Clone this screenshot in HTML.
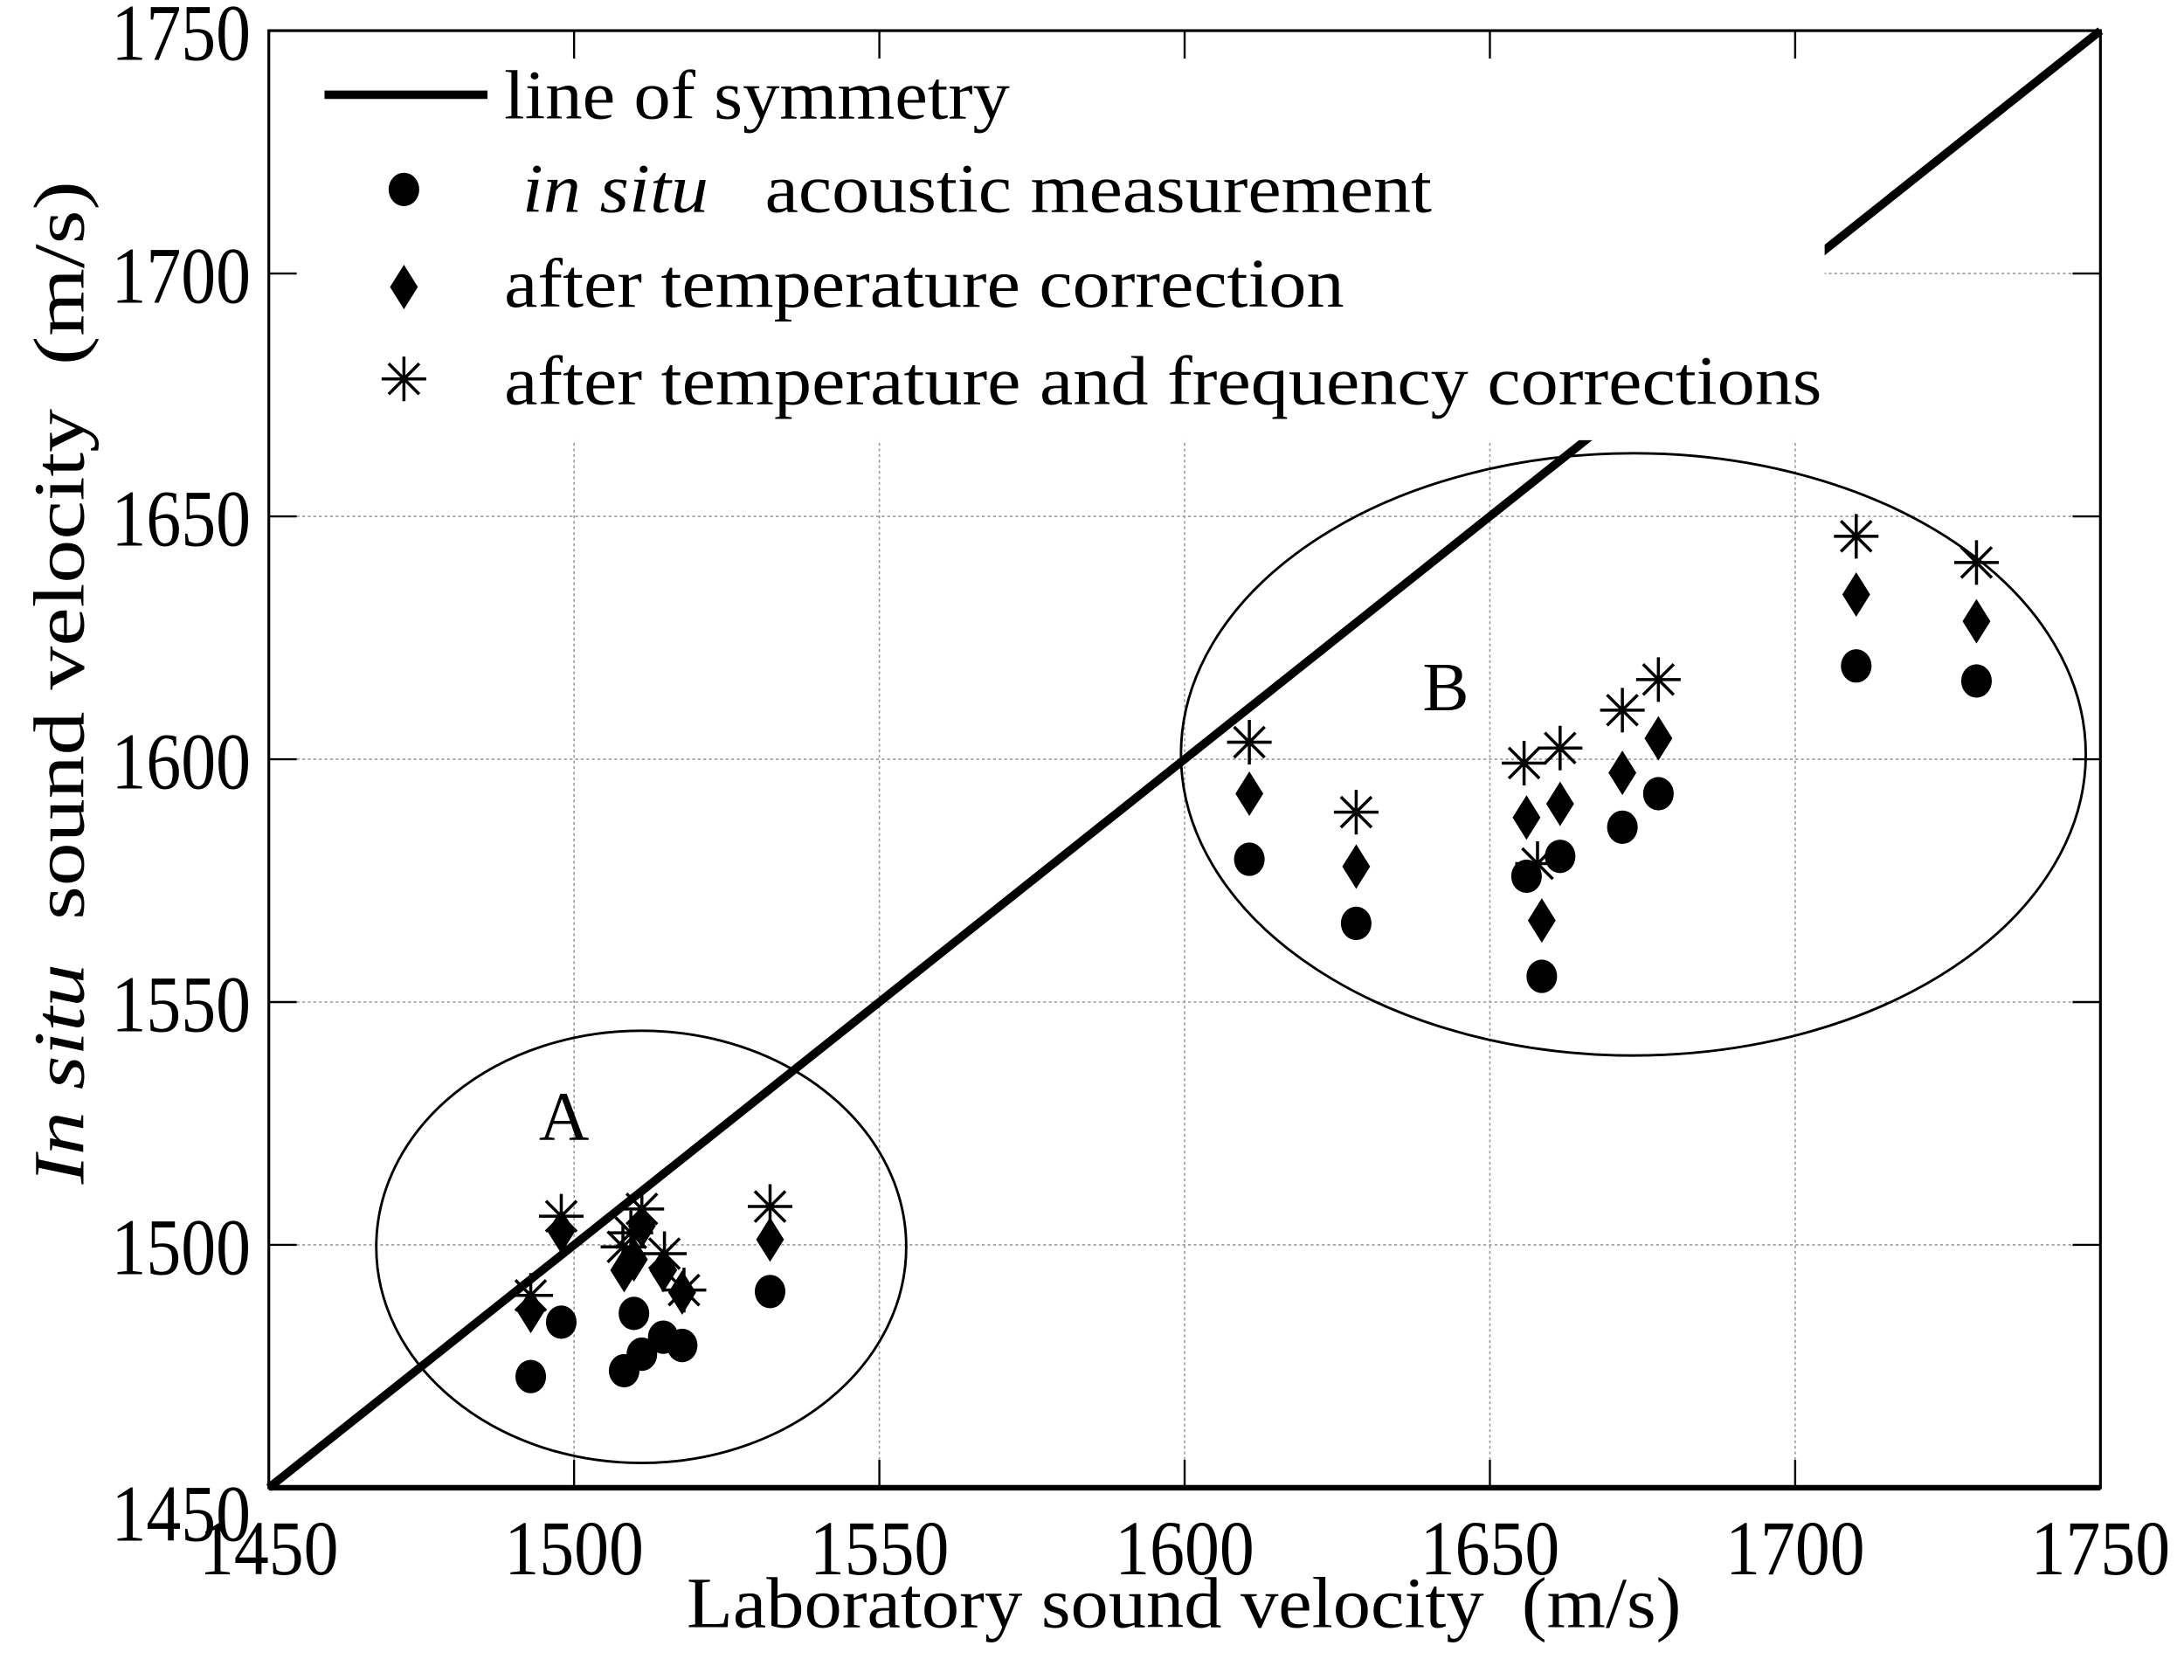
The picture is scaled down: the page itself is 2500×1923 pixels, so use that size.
<!DOCTYPE html>
<html><head><meta charset="utf-8"><style>html,body{margin:0;padding:0;background:#fff;overflow:hidden}svg{display:block}text{font-family:"Liberation Serif",serif;fill:#000}</style></head>
<body>
<svg id="chart" xmlns="http://www.w3.org/2000/svg" width="2500" height="1923" viewBox="0 0 1568 1206" preserveAspectRatio="none">
<rect x="0" y="0" width="1568" height="1206" fill="#fff"/>
<g id="grid"></g>
<g id="ellipses"></g>
<g id="symline"></g>
<g id="marks"></g>
<rect x="194" y="23" width="1116" height="293" fill="#fff"/>
<g id="axes"></g>
<g font-size="50">
  <line x1="233" y1="68" x2="350" y2="68" stroke="#000" stroke-width="6"/>
  <text x="362" y="85" textLength="363" lengthAdjust="spacingAndGlyphs">line of symmetry</text>
  <ellipse cx="290" cy="136" rx="11" ry="12" fill="#000"/>
  <text x="375" y="152" textLength="653" lengthAdjust="spacingAndGlyphs"><tspan font-style="italic">in situ</tspan>&#160;&#160;&#160;acoustic measurement</text>
  <polygon points="290,190 300,206 290,222 280,206" fill="#000"/>
  <text x="362" y="220" textLength="603" lengthAdjust="spacingAndGlyphs">after temperature correction</text>
  <g stroke="#000" stroke-width="2.2">
    <line x1="290" y1="256" x2="290" y2="288"/><line x1="274" y1="272" x2="306" y2="272"/>
    <line x1="279" y1="261" x2="301" y2="283"/><line x1="279" y1="283" x2="301" y2="261"/>
  </g>
  <text x="362" y="290" textLength="946" lengthAdjust="spacingAndGlyphs">after temperature and frequency corrections</text>
</g>
<text x="405" y="818" font-size="50" text-anchor="middle">A</text>
<text x="1038" y="510" font-size="50" text-anchor="middle">B</text>
<text x="493" y="1168" font-size="52" textLength="714" lengthAdjust="spacingAndGlyphs">Laboratory sound velocity&#160;&#160;(m/s)</text>
<text transform="translate(60,850) rotate(-90)" font-size="52" textLength="720" lengthAdjust="spacingAndGlyphs"><tspan font-style="italic">In situ</tspan>&#160;&#160;sound velocity&#160;&#160;(m/s)</text>
</svg>
<script>
const xTicks = [1450,1500,1550,1600,1650,1700,1750];
const yTicks = [1450,1500,1550,1600,1650,1700,1750];
const labX = [1492.9,1497.9,1508.2,1509.8,1511.1,1514.6,1517.7,1532.1,1610.6,1628.1,1656.0,1661.5,1658.5,1671.7,1677.6,1710.0,1729.7];
const labXDiamond = [1492.9,1497.9,1508.2,1509.8,1511.1,1514.6,1517.7,1532.1,1610.6,1628.1,1656.0,1661.5,1658.5,1671.7,1677.6,1710.0,1729.7];
const labXStar = [1492.9,1497.9,1508.0,1509.3,1511.1,1514.8,1518.0,1532.1,1610.6,1628.1,1655.6,1661.5,1657.8,1671.7,1677.6,1710.0,1729.7];
const insitu = [1472.9,1484.1,1474.1,1485.9,1477.5,1481.0,1479.3,1490.4,1579.4,1566.2,1575.9,1580.0,1555.3,1586.0,1592.9,1619.2,1616.1];
const tempCorr = [1486.4,1502.8,1494.8,1497.0,1503.9,1494.8,1490.2,1501.1,1592.9,1577.9,1588.0,1590.8,1566.8,1597.2,1604.3,1633.9,1628.4];
const tempFreqCorr = [1489.6,1505.9,1499.6,1502.5,1507.4,1498.2,1490.7,1507.9,1603.5,1589.1,1599.2,1602.3,1578.5,1610.1,1616.4,1645.9,1640.5];
const ellipseCenters = [[1511.0,1499.6],[1673.5,1601.0]];
const ellipseRadii = [[43.4,44.5],[74.1,62.0]];

const L=193,R=1508,T=22,B=1068, X0=1450,X1=1750,Y0=1450,Y1=1750;
const sx=v=>L+(v-X0)/(X1-X0)*(R-L);
const sy=v=>B-(v-Y0)/(Y1-Y0)*(B-T);
const NS="http://www.w3.org/2000/svg";
function mk(tag,parent,attrs){const e=document.createElementNS(NS,tag);for(const k in attrs)e.setAttribute(k,attrs[k]);parent.appendChild(e);return e;}
const grid=document.getElementById('grid'),axes=document.getElementById('axes'),marks=document.getElementById('marks');

xTicks.forEach((t,i)=>{
  if(i>0&&i<xTicks.length-1){const g=mk('line',grid,{x1:sx(t),y1:T,x2:sx(t),y2:B,stroke:'#999','stroke-width':1,'stroke-dasharray':'2,2'});
  
  }
  const tk=mk('line',axes,{x1:sx(t),y1:B,x2:sx(t),y2:B-20,stroke:'#000','stroke-width':1.5});
  
  
  const tk2=mk('line',axes,{x1:sx(t),y1:T,x2:sx(t),y2:T+20,stroke:'#000','stroke-width':1.5});
  
  
  const lb=mk('text',axes,{x:sx(t),y:1130,'font-size':56,'text-anchor':'middle',textLength:100,lengthAdjust:'spacingAndGlyphs'});
  lb.textContent=t;
  
  
});
yTicks.forEach((t,i)=>{
  if(i>0&&i<yTicks.length-1){const g=mk('line',grid,{x1:L,y1:sy(t),x2:R,y2:sy(t),stroke:'#999','stroke-width':1,'stroke-dasharray':'2,2'});
  
  }
  const tk=mk('line',axes,{x1:L,y1:sy(t),x2:L+20,y2:sy(t),stroke:'#000','stroke-width':1.5});
  
  
  const tk2=mk('line',axes,{x1:R,y1:sy(t),x2:R-20,y2:sy(t),stroke:'#000','stroke-width':1.5});
  
  
  const yy = i===0 ? sy(t)+38 : sy(t)+21;
  const lb=mk('text',axes,{x:180,y:yy,'font-size':58,'text-anchor':'end',textLength:100,lengthAdjust:'spacingAndGlyphs'});
  lb.textContent=t;
  
  
});
const fr=mk('rect',axes,{x:L,y:T,width:R-L,height:B-T,fill:'none',stroke:'#000','stroke-width':2});


const bx=mk('line',axes,{x1:L,y1:B,x2:R,y2:B,stroke:'#000','stroke-width':4});



const el=document.getElementById('ellipses');
ellipseCenters.forEach((c,i)=>{
  const e=mk('ellipse',el,{cx:sx(c[0]),cy:sy(c[1]),rx:sx(c[0]+ellipseRadii[i][0])-sx(c[0]),ry:sy(c[1])-sy(c[1]+ellipseRadii[i][1]),fill:'none',stroke:'#000','stroke-width':1.8});
  
  
});
const sl=mk('line',document.getElementById('symline'),{x1:sx(1450),y1:sy(1450),x2:sx(1750),y2:sy(1750),stroke:'#000','stroke-width':6});



insitu.forEach((v,i)=>{
  const c=mk('ellipse',marks,{cx:sx(labX[i]),cy:sy(v),rx:11,ry:12,fill:'#000'});
  
  
});
tempCorr.forEach((v,i)=>{
  const x=sx(labXDiamond[i]),y=sy(v);
  const d=mk('polygon',marks,{points:`${x},${y-16} ${x+10},${y} ${x},${y+16} ${x-10},${y}`,fill:'#000'});
  
  
});
tempFreqCorr.forEach((v,i)=>{
  const x=sx(labXStar[i]),y=sy(v),r=16,q=11;
  const g=mk('path',marks,{d:`M${x},${y-r}V${y+r}M${x-r},${y}H${x+r}M${x-q},${y-q}L${x+q},${y+q}M${x-q},${y+q}L${x+q},${y-q}`,stroke:'#000','stroke-width':2.2,fill:'none'});
  
  
});
</script>
</body></html>
